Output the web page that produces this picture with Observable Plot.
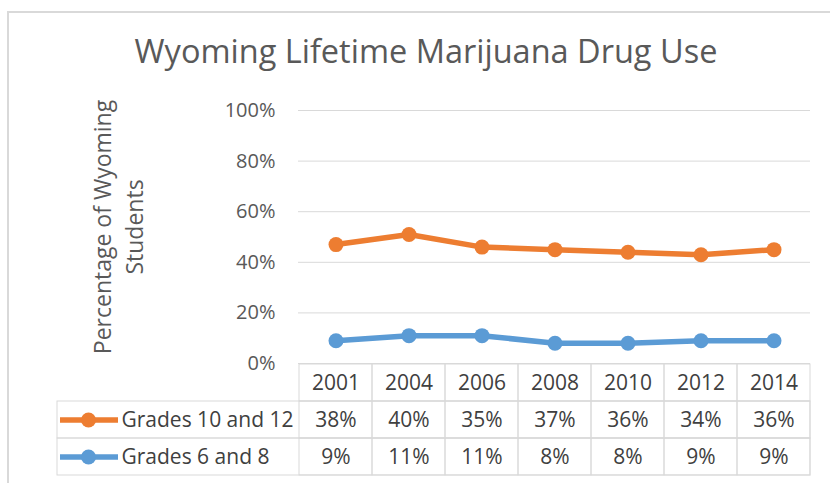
<!DOCTYPE html>
<html><head><meta charset="utf-8">
<script src="https://cdn.jsdelivr.net/npm/d3@7"></script>
<script src="https://cdn.jsdelivr.net/npm/@observablehq/plot@0.6"></script>
<style>
html,body{margin:0;padding:0;background:#fff;width:830px;height:483px;overflow:hidden;font-family:"Open Sans",sans-serif;}
#frame{position:absolute;left:7px;top:11px;width:900px;height:600px;border:2px solid #d9d9d9;box-sizing:border-box;}
#title{position:absolute;left:0;width:852px;top:31px;text-align:center;font-size:32.5px;line-height:40px;color:#595959;white-space:nowrap;}
#chart{position:absolute;left:0;top:0;}
#table{position:absolute;left:0;top:363px;}
</style></head><body>
<div id="frame"></div>
<div id="title">Wyoming Lifetime Marijuana Drug Use</div>
<div id="chart"></div>
<div id="table"></div>
<script>
const years = ["2001","2004","2006","2008","2010","2012","2014"];
const seriesNames = ["Grades 10 and 12","Grades 6 and 8"];
const grades10and12 = [0.38,0.40,0.35,0.37,0.36,0.34,0.36];
const grades6and8 = [0.09,0.11,0.11,0.08,0.08,0.09,0.09];
const yTicks = [0,0.2,0.4,0.6,0.8,1.0];
const colors = ["#ED7D31","#5B9BD5"];
const yLabel = "Percentage of Wyoming\nStudents";

const valueMap = {[seriesNames[0]]: grades10and12, [seriesNames[1]]: grades6and8};
// Excel stacked line: Grades 6 and 8 at the bottom, Grades 10 and 12 stacked on top
const rows = [];
years.forEach((yr,i)=>{
  rows.push({year:yr, series:seriesNames[1], value:grades6and8[i]});
  rows.push({year:yr, series:seriesNames[0], value:grades10and12[i]});
});
const stackOpts = {x:"year", y:"value", z:"series", order:[seriesNames[1], seriesNames[0]]};

const chart = Plot.plot({
  width:830, height:385, marginTop:110, marginBottom:22, marginLeft:298, marginRight:20,
  style:{fontFamily:"Open Sans", fontSize:"20px", color:"#595959", background:"transparent", overflow:"visible"},
  x:{type:"band", domain:years, padding:0, axis:null},
  y:{domain:[0,1], ticks:5, tickFormat:d=>Math.round(d*100)+"%", tickSize:0, tickPadding:23, label:null},
  color:{domain:seriesNames, range:colors},
  marks:[
    Plot.ruleY(yTicks, {stroke:"#d9d9d9", strokeWidth:1}),
    Plot.lineY(rows, Plot.stackY2({...stackOpts, stroke:"series", strokeWidth:5.5})),
    Plot.dot(rows, Plot.stackY2({...stackOpts, fill:"series", r:7.5})),
    Plot.text([yLabel], {frameAnchor:"left", textAnchor:"middle", lineAnchor:"middle", rotate:-90, dx:-182, dy:-10, fontSize:23, lineHeight:1.39, fill:"#595959"})
  ]
});
document.getElementById("chart").append(chart);

const tableRows = ["header", ...seriesNames];
const cells = [];
tableRows.forEach(r => years.forEach((yr,i)=> cells.push({row:r, year:yr,
  label: r==="header" ? yr : Math.round(valueMap[r][i]*100)+"%"})));

const table = Plot.plot({
  width:830, height:120, marginTop:0, marginBottom:8, marginLeft:298, marginRight:20,
  style:{fontFamily:"Open Sans", fontSize:"21px", color:"#404040", background:"transparent"},
  x:{type:"band", domain:years, padding:0, axis:null},
  y:{type:"band", domain:tableRows, padding:0, axis:null},
  color:{domain:seriesNames, range:colors},
  marks:[
    Plot.cell(seriesNames, {y:d=>d, stroke:"#d9d9d9", fill:"none", insetLeft:-241}),
    Plot.cell(cells, {x:"year", y:"row", stroke:"#d9d9d9", fill:"none"}),
    Plot.text(cells, {x:"year", y:"row", text:"label", fontSize:21, fill:"#404040"}),
    Plot.ruleY(seriesNames, {y:d=>d, stroke:d=>d, strokeWidth:5.5, insetLeft:-238, insetRight:692}),
    Plot.dot(seriesNames, {y:d=>d, frameAnchor:"left", dx:-210, r:7.5, fill:d=>d}),
    Plot.text(seriesNames, {y:d=>d, text:d=>d, frameAnchor:"left", dx:-177, textAnchor:"start", fontSize:21, fill:"#404040"})
  ]
});
document.getElementById("table").append(table);
</script>
</body></html>
